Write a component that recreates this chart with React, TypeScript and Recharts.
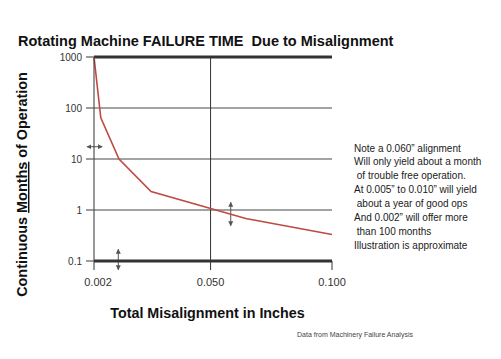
import React from "react";
import { LineChart, Line, XAxis, YAxis, CartesianGrid, ReferenceLine } from "recharts";

const misalignment = [0.002, 0.0048, 0.0123, 0.0255, 0.0645, 0.1];
const months = [1000, 64, 10, 2.3, 0.68, 0.33];
const xTicks = [0.002, 0.05, 0.1];
const xTickLabels = ["0.002", "0.050", "0.100"];
const yTicks = [0.1, 1, 10, 100, 1000];
const yTickLabels = ["0.1", "1", "10", "100", "1000"];
const noteLines = [
  "Note a 0.060\u201D alignment",
  "Will only yield about a month",
  "\u00A0of trouble free operation.",
  "At 0.005\u201D to 0.010\u201D will yield",
  "\u00A0about a year of good ops",
  "And 0.002\u201D will offer more",
  "\u00A0than 100 months",
  "Illustration is approximate",
];
// annotation arrows in data coordinates
const arrows = [
  { x1: -0.0009, y1: 17.4, x2: 0.0054, y2: 17.4 },
  { x1: 0.012, y1: 0.17, x2: 0.012, y2: 0.067 },
  { x1: 0.0583, y1: 1.42, x2: 0.0583, y2: 0.49 },
];

const data = misalignment.map((x, i) => ({ x, months: months[i] }));
const FONT = "'Liberation Sans', Arial, sans-serif";

const XTick = (props: any) => {
  const { x, y, payload } = props;
  const idx = xTicks.indexOf(payload.value);
  const label = xTickLabels[idx] ?? String(payload.value);
  const dx = idx === 0 ? 4 : 0;
  return (
    <text x={x + dx} y={y} dy="0.71em" textAnchor="middle" fill="#333" fontSize={11} fontFamily={FONT}>
      {label}
    </text>
  );
};

export default function App() {
  return (
    <div style={{ position: "absolute", left: 0, top: 0, width: 501, height: 359, background: "#fff" }}>
      <svg width={0} height={0} style={{ position: "absolute" }}>
        <defs>
          <marker id="ah" viewBox="0 0 10 10" refX="9" refY="5" markerWidth="5" markerHeight="5" orient="auto-start-reverse">
            <path d="M0,0 L10,5 L0,10 z" fill="#555" />
          </marker>
        </defs>
      </svg>
      <LineChart width={501} height={359} data={data} margin={{ top: 57, right: 169, bottom: 68, left: 0 }}>
        <CartesianGrid vertical={false} stroke="#858585" strokeWidth={1.3} />
        <XAxis
          type="number"
          dataKey="x"
          domain={[0.002, 0.1]}
          ticks={xTicks}
          height={30}
          axisLine={{ stroke: "#333", strokeWidth: 3 }}
          tickLine={{ stroke: "#333" }}
          tickSize={9}
          tickMargin={8}
          tick={<XTick />}
        />
        <YAxis
          type="number"
          scale="log"
          domain={[0.1, 1000]}
          ticks={yTicks}
          tickFormatter={(v: number) => yTickLabels[yTicks.indexOf(v)] ?? String(v)}
          width={94}
          axisLine={{ stroke: "#333", strokeWidth: 1 }}
          tickLine={{ stroke: "#666", strokeWidth: 1.3 }}
          tickSize={8}
          tickMargin={4}
          tick={{ fill: "#333", fontSize: 10, fontFamily: FONT }}
          allowDataOverflow
        />
        <ReferenceLine y={1000} stroke="#333" strokeWidth={3} />
        <ReferenceLine x={0.05} stroke="#333" strokeWidth={1} />
        {arrows.map((a, i) => (
          <ReferenceLine
            key={i}
            segment={[{ x: a.x1, y: a.y1 }, { x: a.x2, y: a.y2 }]}
            stroke="#555"
            strokeWidth={1}
            ifOverflow="visible"
            markerStart="url(#ah)"
            markerEnd="url(#ah)"
          />
        ))}
        <Line
          type="linear"
          dataKey="months"
          stroke="#bd4a44"
          strokeWidth={1.6}
          dot={false}
          isAnimationActive={false}
        />
      </LineChart>
      <svg width={501} height={359} style={{ position: "absolute", left: 0, top: 0, pointerEvents: "none" }}>
        <text x={205.7} y={46} textAnchor="middle" fontFamily={FONT} fontWeight="bold" fontSize={14.5} fill="#111">
          Rotating Machine FAILURE TIME{"\u00A0 "}Due to Misalignment
        </text>
        <text
          x={27}
          y={184.5}
          transform="rotate(-90, 27, 184.5)"
          textAnchor="middle"
          fontFamily={FONT}
          fontWeight="bold"
          fontSize={14.4}
          fill="#111"
        >
          Continuous <tspan style={{ textDecoration: "underline" }}>Months</tspan> of Operation
        </text>
        <text x={207.5} y={318} textAnchor="middle" fontFamily={FONT} fontWeight="bold" fontSize={14.3} fill="#111">
          Total Misalignment in Inches
        </text>
        {noteLines.map((l, i) => (
          <text key={i} x={354} y={151.5 + i * 13.9} fontFamily={FONT} fontSize={10} fill="#1a1a1a">
            {l}
          </text>
        ))}
        <text x={297} y={337} fontFamily={FONT} fontSize={7} fill="#444">
          Data from Machinery Failure Analysis
        </text>
      </svg>
    </div>
  );
}
